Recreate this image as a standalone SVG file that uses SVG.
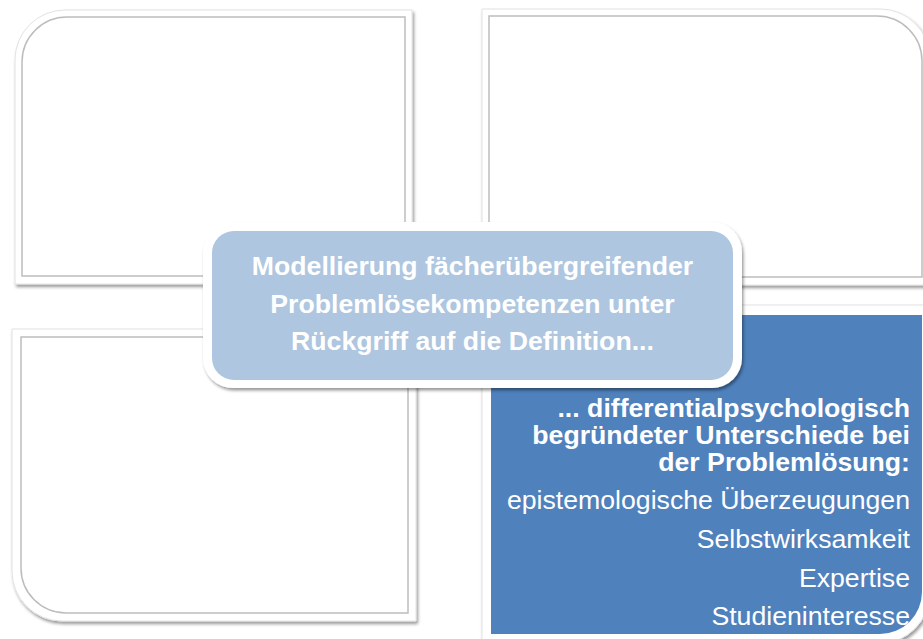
<svg xmlns="http://www.w3.org/2000/svg" width="923" height="639" viewBox="0 0 923 639">
  <style>
    .frame { fill: #ffffff; stroke: #e2e2e2; stroke-width: 1; filter: url(#shadow); }
    .inset { fill: #ffffff; stroke: #bdbdbd; stroke-width: 1.5; filter: url(#soft); }
    .t { font-family: "Liberation Sans", Arial, sans-serif; font-size: 26.67px; fill: #ffffff; }
    .b { font-weight: bold; }
  </style>
  <defs>
    <filter id="shadow" x="-5%" y="-5%" width="112%" height="115%">
      <feDropShadow dx="1.5" dy="2.5" stdDeviation="1.6" flood-color="#000000" flood-opacity="0.4"/>
    </filter>
    <filter id="soft" x="-2%" y="-2%" width="104%" height="104%">
      <feGaussianBlur stdDeviation="0.5"/>
    </filter>
    <clipPath id="brClip">
      <path d="M491,315 H922 V592 A42,42 0 0 1 880,634 H491 Z"/>
    </clipPath>
  </defs>
  <rect x="0" y="0" width="923" height="639" fill="#ffffff"/>

  <g id="node-top-left">
    <path class="frame" d="M15,60 A50,50 0 0 1 65,10 H412 V284 H15 Z"/>
    <path class="inset" d="M22,62 A45,45 0 0 1 67,17 H405 V276 H22 Z"/>
  </g>

  <g id="node-top-right">
    <path class="frame" d="M482,9 H880 A50,50 0 0 1 930,59 V285 H482 Z"/>
    <path class="inset" d="M489,16 H877 A45,45 0 0 1 922,61 V277 H489 Z"/>
  </g>

  <g id="node-bottom-left">
    <path class="frame" d="M12,329 H416 V621 H62 A50,50 0 0 1 12,571 Z"/>
    <path class="inset" d="M21,337 H408 V613 H66 A45,45 0 0 1 21,568 Z"/>
  </g>

  <g id="node-bottom-right">
    <path class="frame" d="M482,305 H930 V592 A52,52 0 0 1 878,644 H482 Z"/>
    <path d="M491,315 H922 V592 A42,42 0 0 1 880,634 H491 Z" fill="#4f81bd"/>
    <g clip-path="url(#brClip)" text-anchor="end">
      <text class="t b" x="910" y="417">... differentialpsychologisch</text>
      <text class="t b" x="910" y="443.5">begründeter Unterschiede bei</text>
      <text class="t b" x="910" y="470.5">der Problemlösung:</text>
      <text class="t" x="910" y="509">epistemologische Überzeugungen</text>
      <text class="t" x="910" y="548">Selbstwirksamkeit</text>
      <text class="t" x="910" y="586.5">Expertise</text>
      <text class="t" x="910" y="625">Studieninteresse</text>
    </g>
  </g>

  <g id="connectors"></g>

  <g id="node-center">
    <rect x="203" y="222" width="539" height="166" rx="30" ry="30" fill="#ffffff" filter="url(#shadow)"/>
    <rect x="212" y="231" width="521" height="149" rx="22" ry="22" fill="#aec6df"/>
    <g text-anchor="middle">
      <text class="t b" x="472.5" y="275">Modellierung fächerübergreifender</text>
      <text class="t b" x="472.5" y="313">Problemlösekompetenzen unter</text>
      <text class="t b" x="472.5" y="350">Rückgriff auf die Definition...</text>
    </g>
  </g>
</svg>
